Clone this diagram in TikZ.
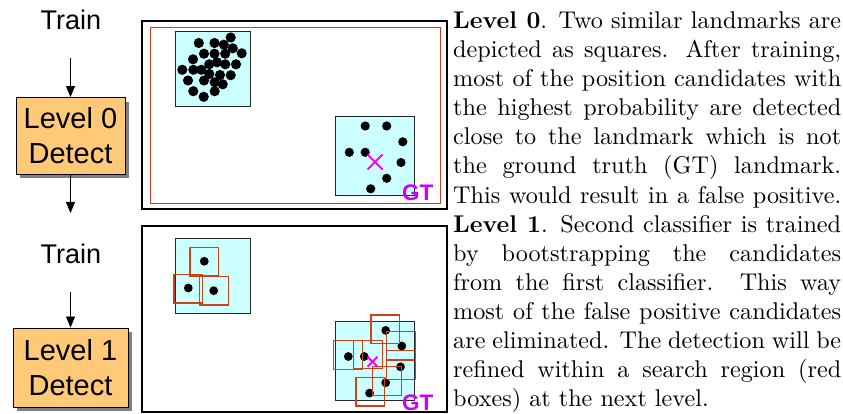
\documentclass[tikz,border=0pt]{standalone}
\usepackage{fontspec}
\setmainfont{lmroman10-regular.otf}[BoldFont=lmroman10-bold.otf]
\newfontfamily\arialf{Liberation Sans}
\usetikzlibrary{arrows.meta,shadows}
\definecolor{boxfill}{RGB}{255,201,120}
\definecolor{cyanfill}{RGB}{204,255,255}
\definecolor{redline}{RGB}{205,65,25}
\definecolor{gtcol}{RGB}{204,0,255}
\definecolor{xcol}{RGB}{255,0,255}
\begin{document}
\begin{tikzpicture}[x=1pt,y=-1pt,
  trainlbl/.style={font=\arialf\fontsize{27}{30}\selectfont, inner sep=0, anchor=base},
  detbox/.style={draw=black, line width=1pt, fill=boxfill, align=center, inner sep=0,
     font=\arialf\fontsize{29}{35}\selectfont,
     drop shadow={shadow xshift=4pt, shadow yshift=-4pt, fill=black!50, opacity=1}},
  arr/.style={line width=0.8pt, -{Triangle[width=9pt,length=11pt]}},
  frame/.style={draw=black, line width=1.6pt},
  lmk/.style={draw=black!85, line width=1pt, fill=cyanfill},
  sbox/.style={draw=redline, line width=1.1pt},
  gtl/.style={font=\arialf\bfseries\fontsize{22.5}{24}\selectfont, text=gtcol, inner sep=0, anchor=base west},
  txt/.style={font=\fontsize{24.2}{29}\selectfont, inner sep=0, anchor=base west}
]
\useasboundingbox (0,0) rectangle (843,414);

% ---------- left column ----------
\node[trainlbl] (tr0) at (71,30) {Train};
\coordinate (a0) at (70.5,58);
\node[detbox, minimum width=109pt, minimum height=76.5pt] (d0) at (70.5,135.8) {Level 0\\Detect};
\coordinate (a1) at (70.5,213);
\node[trainlbl] (tr1) at (71,263) {Train};
\coordinate (a2) at (70.5,292);
\node[detbox, minimum width=115pt, minimum height=79pt] (d1) at (70.5,367.5) {Level 1\\Detect};
\draw[arr] (a0) -- (d0.north);
\draw[arr] (d0.south) -- (a1);
\draw[arr] (a2) -- (d1.north);

% ---------- panel 1 ----------
\draw[frame] (142,21) rectangle (447,209);
\draw[redline, line width=0.9pt] (150,27) rectangle (440,203);
\draw[lmk] (175.7,31.7) rectangle (250.7,106.7);
\draw[lmk] (335.7,116.7) rectangle (414,195.3);
\foreach \p in {(230.7,37.5),(198.8,43),(214.5,43),(223.8,44.7),(232.8,48.3),(241.7,53.3),
  (204,53.7),(214.5,53.7),(225.2,53.7),(193,59.3),(209.2,64.3),(217,62.3),(225.3,64.3),
  (236,64.3),(182.3,69.8),(193.3,69.8),(201.3,69.8),(209.3,74),(220,75),(230.7,75.2),
  (188,80.5),(204,80.5),(214.7,82.3),(222.7,84.3),(193.3,91.2),(214.7,91.2),(203.7,96.8)}
  \fill \p circle[radius=5.1pt];
\foreach \p in {(365.2,126),(386.7,126),(402.8,141.8),(349.3,152.3),(365.2,152.3),
  (401,162.5),(386.7,178.3),(370.7,188.8)}
  \fill \p circle[radius=4.6pt];
\draw[xcol, line width=2pt] (367.5,154.5) -- (382.5,169.5) (367.5,169.5) -- (382.5,154.5);
\node[gtl] (gt0) at (402,200.7) {GT};

% ---------- panel 2 ----------
\draw[frame] (142,226) rectangle (447,412);
\draw[lmk] (175.7,238.3) rectangle (250.7,313.3);
\draw[lmk] (335.7,321.7) rectangle (414,400.3);
\foreach \p in {(204.3,261.3),(188.3,288),(213.7,290.7),
  (385.7,330.4),(401.8,346),(348.3,356.5),(364.3,356.5),(400.5,366.8),(385.7,382.7),(369.6,393.1)}
  \fill \p circle[radius=4.4pt];
\draw[sbox] (190,247.3) rectangle (218.7,276);
\draw[sbox] (174,274.3) rectangle (202.7,303);
\draw[sbox] (199.3,276.3) rectangle (228.3,305);
\draw[sbox] (371,315) rectangle (399.7,343.8);
\draw[sbox] (386.7,331.2) rectangle (415.7,360);
\draw[sbox] (333.3,340.7) rectangle (362.3,369.3);
\draw[sbox] (353.3,340.2) rectangle (382.2,368.7);
\draw[sbox] (386.7,350.7) rectangle (415.7,379.2);
\draw[sbox] (372.5,366.7) rectangle (401.3,395.5);
\draw[sbox] (356,377.3) rectangle (384.8,406);
\draw[xcol, line width=2pt] (367.5,356.7) -- (377.5,366.7) (367.5,366.7) -- (377.5,356.7);
\node[gtl] (gt1) at (402,410) {GT};

% ---------- text ----------
\node[txt] (t1) at (453,28.5) {\makebox[388pt][s]{\textbf{Level 0}. Two similar landmarks are}};
\node[txt] (t2) at (453,57.6) {\makebox[388pt][s]{depicted as squares. After training,}};
\node[txt] (t3) at (453,86.7) {\makebox[388pt][s]{most of the position candidates with}};
\node[txt] (t4) at (453,115.8) {\makebox[388pt][s]{the highest probability are detected}};
\node[txt] (t5) at (453,144.9) {\makebox[388pt][s]{close to the landmark which is not}};
\node[txt] (t6) at (453,174) {\makebox[388pt][s]{the ground truth (GT) landmark.}};
\node[txt] (t7) at (453,203.1) {\makebox[388pt][s]{This would result in a false positive.}};
\node[txt] (t8) at (453,232.2) {\makebox[388pt][s]{\textbf{Level 1}. Second classifier is trained}};
\node[txt] (t9) at (453,261.3) {\makebox[388pt][s]{by bootstrapping the candidates}};
\node[txt] (t10) at (453,290.4) {\makebox[388pt][s]{from the first classifier. This way}};
\node[txt] (t11) at (453,319.5) {\makebox[388pt][s]{most of the false positive candidates}};
\node[txt] (t12) at (453,348.6) {\makebox[388pt][s]{are eliminated. The detection will be}};
\node[txt] (t13) at (453,377.7) {\makebox[388pt][s]{refined within a search region (red}};
\node[txt] (t14) at (453,406.8) {\makebox[388pt][l]{boxes) at the next level.}};
\end{tikzpicture}
\end{document}
